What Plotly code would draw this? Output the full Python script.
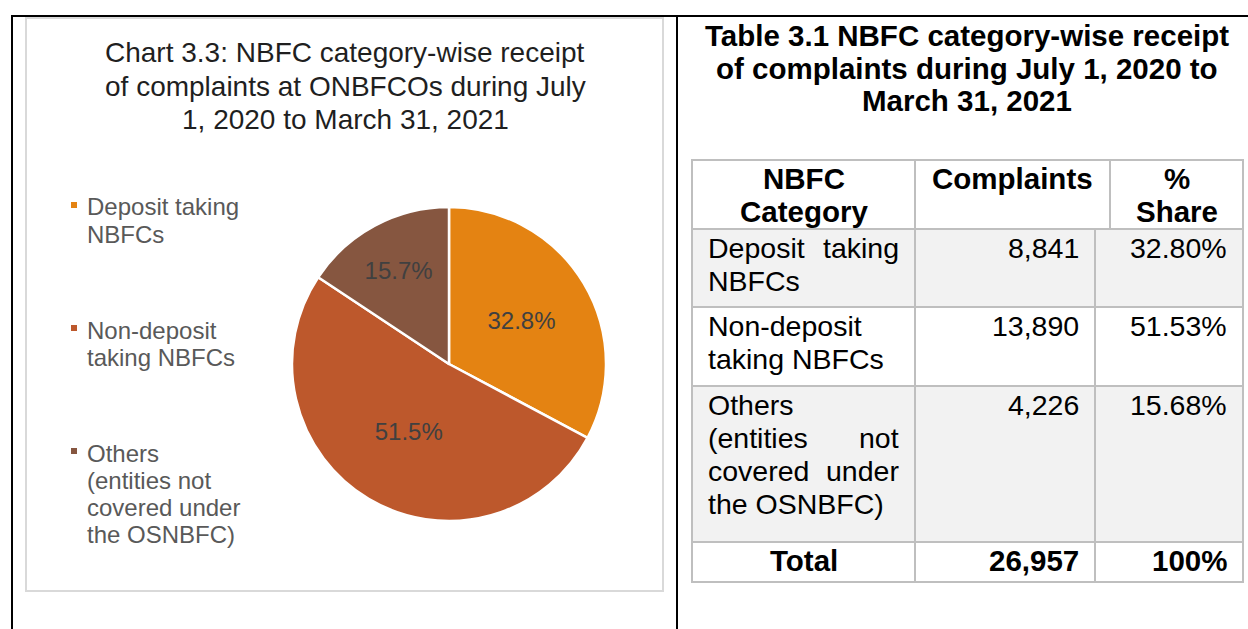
import plotly.graph_objects as go

# ---------------- data ----------------
chart_title = ["Chart 3.3: NBFC category-wise receipt",
               "of complaints at ONBFCOs during July",
               "1, 2020 to March 31, 2021"]
table_title = ["Table 3.1 NBFC category-wise receipt",
               "of complaints during July 1, 2020 to",
               "March 31, 2021"]
categories = [["Deposit taking", "NBFCs"],
              ["Non-deposit", "taking NBFCs"],
              ["Others", "(entities not", "covered under", "the OSNBFC)"]]
complaints = [8841, 13890, 4226]
header = [["NBFC", "Category"], ["Complaints"], ["%", "Share"]]
total_label = "Total"

total = sum(complaints)
counts_txt = [f"{v:,}" for v in complaints]
shares_txt = [f"{100 * v / total:.2f}%" for v in complaints]
total_txt = f"{total:,}"
total_share_txt = f"{100 * total / total:.0f}%"

# ---------------- style ----------------
W, H = 1248, 629
FONT = "Arial, 'Liberation Sans', sans-serif"
slice_colors = ["#E48312", "#BD582C", "#865640"]
GRID = "#BFBFBF"
BOXC = "#D9D9D9"


def X(px):
    return px / W


def Y(py):
    return 1 - py / H


ann = []
shapes = []


def txt(x, y, s, anchor="left", size=28.5, bold=False, color="#000000"):
    if bold:
        s = f"<b>{s}</b>"
    ann.append(dict(x=X(x), y=Y(y), xref="paper", yref="paper", text=s,
                    showarrow=False, xanchor=anchor, yanchor="middle",
                    borderpad=0,
                    font=dict(family=FONT, size=size, color=color)))


def line(x0, y0, x1, y1, color, width=2):
    shapes.append(dict(type="line", xref="paper", yref="paper",
                       x0=X(x0), y0=Y(y0), x1=X(x1), y1=Y(y1),
                       line=dict(color=color, width=width)))


def rect(x0, y0, x1, y1, fill=None, color=None, width=0, layer="below"):
    shapes.append(dict(type="rect", xref="paper", yref="paper", layer=layer,
                       x0=X(x0), y0=Y(y0), x1=X(x1), y1=Y(y1),
                       fillcolor=fill if fill else "rgba(0,0,0,0)",
                       line=dict(color=color if color else "rgba(0,0,0,0)",
                                 width=width)))


# ---------------- frame ----------------
line(11, 16, W, 16, "#000000", 2)
line(12, 16, 12, H, "#000000", 2)
line(677, 16, 677, H, "#000000", 2)

# chart box
rect(26, 18, 663, 591, color=BOXC, width=2)

# chart title
for i, s in enumerate(chart_title):
    txt(345, 53 + 33 * i, s, "center", size=28, color="#1f1f1f")

# legend
leg_first = [207, 330, 453]
for k, lines in enumerate(categories):
    y0 = leg_first[k]
    rect(71, y0 - 5, 77, y0 + 1, fill=slice_colors[k], layer="above")
    for j, s in enumerate(lines):
        txt(86, y0 + 27.3 * j, s, "left", size=24, color="#595959")

# pie
fig = go.Figure()
fig.add_trace(go.Pie(
    values=complaints,
    labels=[" ".join(c) for c in categories],
    sort=False, direction="clockwise", rotation=0,
    marker=dict(colors=slice_colors, line=dict(color="#FFFFFF", width=2.5)),
    texttemplate="%{percent:.1%}", textposition="inside",
    insidetextorientation="horizontal",
    textfont=dict(family=FONT, size=24, color="#404040"),
    domain=dict(x=[X(292), X(606)], y=[Y(521), Y(207)]),
    showlegend=False, hoverinfo="skip",
))

# ---------------- table ----------------
for i, s in enumerate(table_title):
    txt(967, 35.5 + 32.5 * i, s, "center", size=29.5, bold=True)

T_L, T_R = 692, 1243
C1 = 915
C2_HEAD, C2_BODY = 1110, 1095
row_y = [160, 229, 307, 386, 542, 582]
LSTEP = 33.3
FIRST = 18.5

rect(T_L, row_y[1], T_R, row_y[2], fill="#F2F2F2")
rect(T_L, row_y[3], T_R, row_y[4], fill="#F2F2F2")

for yy in row_y:
    line(T_L - 1, yy, T_R + 1, yy, GRID, 2)
line(T_L, row_y[0], T_L, row_y[-1], GRID, 2)
line(T_R, row_y[0], T_R, row_y[-1], GRID, 2)
line(C1, row_y[0], C1, row_y[-1], GRID, 2)
line(C2_HEAD, row_y[0], C2_HEAD, row_y[1], GRID, 2)
line(C2_BODY, row_y[1], C2_BODY, row_y[-1], GRID, 2)

# header
head_cx = [(T_L + C1) / 2, (C1 + C2_HEAD) / 2, (C2_HEAD + T_R) / 2]
for c, lines in enumerate(header):
    for j, s in enumerate(lines):
        txt(head_cx[c], row_y[0] + FIRST + LSTEP * j, s, "center", size=29.5, bold=True)

# body
TX_L, TX_R = 707, 900
N2_R, N3_R = 1080, 1228
for r, lines in enumerate(categories):
    top = row_y[r + 1] + FIRST
    for j, s in enumerate(lines):
        y = top + LSTEP * j
        words = s.split(" ")
        if j < len(lines) - 1 and len(words) == 2:
            txt(TX_L, y, words[0], "left")
            txt(TX_R, y, words[1], "right")
        else:
            txt(TX_L, y, s, "left")
    txt(N2_R, top, counts_txt[r], "right")
    txt(N3_R, top, shares_txt[r], "right")

ytot = row_y[4] + FIRST
txt((T_L + C1) / 2, ytot, total_label, "center", size=29.5, bold=True)
txt(N2_R, ytot, total_txt, "right", size=29.5, bold=True)
txt(N3_R, ytot, total_share_txt, "right", size=29.5, bold=True)

fig.update_layout(
    width=W, height=H, autosize=False,
    margin=dict(l=0, r=0, t=0, b=0, pad=0),
    paper_bgcolor="#FFFFFF", plot_bgcolor="#FFFFFF",
    showlegend=False,
    shapes=shapes, annotations=ann,
)

fig.write_html("out.html", config={"displayModeBar": False},
               post_script="document.body.style.margin='0';document.body.style.overflow='hidden';")
